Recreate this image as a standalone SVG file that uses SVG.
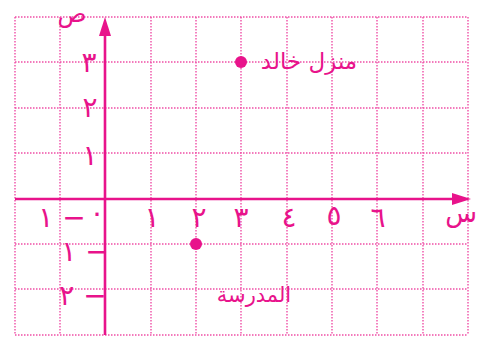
<svg xmlns="http://www.w3.org/2000/svg" width="479" height="340" viewBox="0 0 479 340">
<style>
.grid line{stroke:#ef4fa6;stroke-width:1.4;stroke-dasharray:1.5 1.5}
.axis{stroke:#e8138b;stroke-width:2.6;fill:none}
.head{fill:#e8138b}
.t{font-family:"DejaVu Sans",sans-serif;fill:#e8138b}
.d{font-size:28px;text-anchor:middle}
.n{unicode-bidi:bidi-override;direction:ltr}
</style>
<rect width="479" height="340" fill="#fff"/>
<g class="grid" id="grid">
<line x1="15" y1="17" x2="15" y2="335"/>
<line x1="60" y1="17" x2="60" y2="335"/>
<line x1="151" y1="17" x2="151" y2="335"/>
<line x1="196" y1="17" x2="196" y2="335"/>
<line x1="241" y1="17" x2="241" y2="335"/>
<line x1="287" y1="17" x2="287" y2="335"/>
<line x1="332" y1="17" x2="332" y2="335"/>
<line x1="377" y1="17" x2="377" y2="335"/>
<line x1="423" y1="17" x2="423" y2="335"/>
<line x1="468" y1="17" x2="468" y2="335"/>
<line x1="15" y1="17" x2="468" y2="17"/>
<line x1="15" y1="62" x2="468" y2="62"/>
<line x1="15" y1="108" x2="468" y2="108"/>
<line x1="15" y1="153" x2="468" y2="153"/>
<line x1="15" y1="244" x2="468" y2="244"/>
<line x1="15" y1="289" x2="468" y2="289"/>
<line x1="15" y1="335" x2="468" y2="335"/>
</g>
<g id="connectors">
<line class="axis" x1="105" y1="335" x2="105" y2="32"/>
<polygon class="head" points="105,17 99,36 111,36"/>
<line class="axis" x1="15" y1="199" x2="456" y2="199"/>
<polygon class="head" points="471,199 452,193 452,205"/>
</g>
<g id="axis-labels">
<text class="t" x="72" y="22" font-size="24" text-anchor="middle">ص</text>
<text class="t" x="461" y="222" font-size="26" text-anchor="middle">س</text>
</g>
<g id="y-ticks">
<text class="t d" x="89" y="72">٣</text>
<text class="t d" x="90" y="117">٢</text>
<text class="t d" x="90" y="165">١</text>
<text class="t d n" x="85" y="261">١ −</text>
<text class="t d n" x="83" y="305">٢ −</text>
</g>
<g id="x-ticks">
<text class="t d n" x="62" y="227">١ −</text>
<text class="t d" x="97" y="222">٠</text>
<text class="t d" x="152" y="227">١</text>
<text class="t d" x="199" y="227">٢</text>
<text class="t d" x="241" y="227">٣</text>
<text class="t d" x="289" y="227">٤</text>
<text class="t d" x="334" y="225">٥</text>
<text class="t d" x="378" y="227">٦</text>
</g>
<g id="khaled-house">
<circle cx="241" cy="62" r="6" fill="#e8138b"/>
<text class="t" x="309" y="69" font-size="23" text-anchor="middle" direction="rtl">منزل خالد</text>
</g>
<g id="school">
<circle cx="196" cy="244" r="6" fill="#e8138b"/>
<text class="t" x="254" y="302" font-size="21" text-anchor="middle" direction="rtl">المدرسة</text>
</g>
</svg>
